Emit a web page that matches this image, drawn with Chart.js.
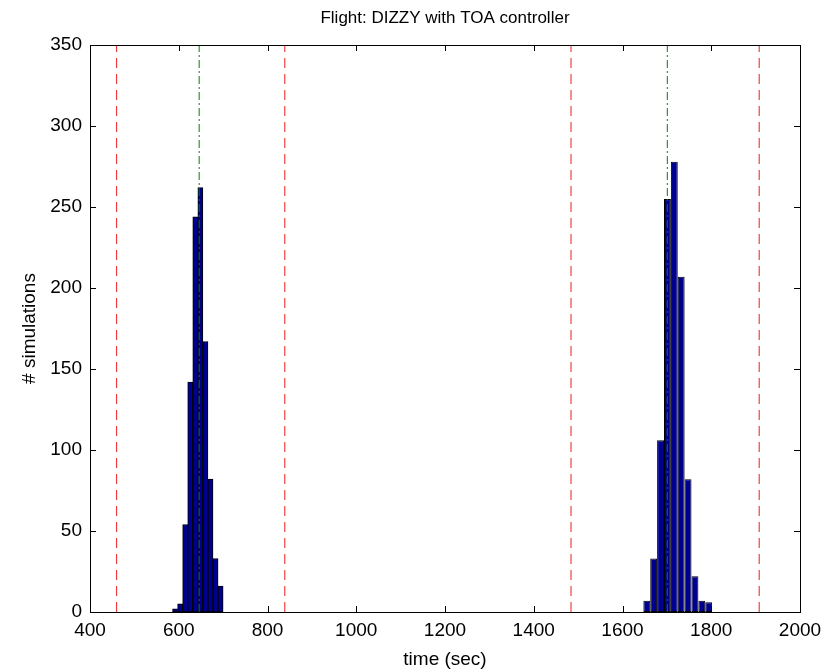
<!DOCTYPE html>
<html>
<head>
<meta charset="utf-8">
<script src="https://cdn.jsdelivr.net/npm/chart.js@4"></script>
<style>
  html, body { margin: 0; padding: 0; background: #fff; }
  #c { display: block; }
</style>
</head>
<body>
<canvas id="c" width="824" height="671"></canvas>
<script>
// ---- data ----
const titleText = 'Flight: DIZZY with TOA controller';
const xLabel = 'time (sec)';
const yLabel = '# simulations';

const leftBinCenters = [591.7, 603.1, 614.5, 625.9, 637.3, 648.7, 660.1, 671.5, 682.9, 694.3];
const leftCounts     = [2, 5, 54, 142, 244, 262, 167, 82, 33, 16];
const leftBinWidth = 11.4;

const rightBinCenters = [1654.75, 1670.25, 1685.75, 1701.25, 1716.75, 1732.25, 1747.75, 1763.25, 1778.75, 1794.25];
const rightCounts     = [7, 33, 106, 255, 278, 207, 82, 22, 7, 6];
const rightBinWidth = 15.5;

const redLimits = [460, 839, 1484, 1908];      // dashed red lines
const greenTargets = [646, 1701];              // dash-dot green lines

const xMin = 400, xMax = 2000, xStep = 200;
const yMin = 0, yMax = 350, yStep = 50;

// ---- build datasets ----
function pts(xs, ys) { return xs.map((x, i) => ({ x: x, y: ys[i] })); }
function vline(x) { return [{ x: x, y: yMin }, { x: x, y: yMax }]; }

const datasets = [
  {
    type: 'bar', label: 'left', data: pts(leftBinCenters, leftCounts),
    backgroundColor: '#00008F', borderColor: '#000000', borderWidth: 1, borderSkipped: false,
    grouped: false, barPercentage: 1, categoryPercentage: 1, order: 2
  },
  {
    type: 'bar', label: 'right', data: pts(rightBinCenters, rightCounts),
    backgroundColor: '#00008F', borderColor: '#000000', borderWidth: 1, borderSkipped: false,
    grouped: false, barPercentage: 1, categoryPercentage: rightBinWidth / leftBinWidth, order: 2
  }
];
redLimits.forEach(v => datasets.push({
  type: 'line', data: vline(v), borderColor: 'rgb(235,30,30)', borderWidth: 1,
  borderDash: [10, 6], pointRadius: 0, fill: false, order: 1
}));
greenTargets.forEach(v => datasets.push({
  type: 'line', data: vline(v), borderColor: 'rgb(0,128,0)', borderWidth: 1,
  borderDash: [8, 3, 2, 3], pointRadius: 0, fill: false, order: 0
}));

// frame + inward ticks on all four sides
const framePlugin = {
  id: 'frame',
  afterDraw(chart) {
    const { ctx, chartArea: a, scales: { x, y } } = chart;
    const t = 6;
    ctx.save();
    ctx.strokeStyle = '#000';
    ctx.lineWidth = 1;
    ctx.beginPath();
    x.ticks.forEach(tk => {
      const px = Math.round(x.getPixelForValue(tk.value)) + 0.5;
      ctx.moveTo(px, a.bottom); ctx.lineTo(px, a.bottom - t);
      ctx.moveTo(px, a.top); ctx.lineTo(px, a.top + t);
    });
    y.ticks.forEach(tk => {
      const py = Math.round(y.getPixelForValue(tk.value)) + 0.5;
      ctx.moveTo(a.left, py); ctx.lineTo(a.left + t, py);
      ctx.moveTo(a.right, py); ctx.lineTo(a.right - t, py);
    });
    ctx.stroke();
    ctx.strokeRect(Math.round(a.left) + 0.5, Math.round(a.top) + 0.5,
                   Math.round(a.right - a.left), Math.round(a.bottom - a.top));
    ctx.restore();
  }
};

const fontFamily = '"Liberation Sans", Arial, Helvetica, sans-serif';

new Chart(document.getElementById('c'), {
  type: 'bar',
  data: { datasets: datasets },
  options: {
    responsive: false,
    animation: false,
    layout: { padding: { left: 0, right: 24, top: 0, bottom: 0 } },
    plugins: {
      legend: { display: false },
      tooltip: { enabled: false },
      title: { display: false }
    },
    scales: {
      x: {
        type: 'linear', min: xMin, max: xMax, offset: false,
        grid: { display: false, drawTicks: false },
        border: { display: false },
        ticks: { stepSize: xStep, color: '#000', padding: 7, maxRotation: 0,
                 font: { family: fontFamily, size: 19 },
                 callback: (v) => String(v) },
        title: { display: true, text: xLabel, color: '#000',
                 font: { family: fontFamily, size: 19, lineHeight: 1.2 },
                 padding: { top: 0, bottom: 0 } },
        afterFit(scale) { scale.height = 59; scale.paddingLeft = 0; scale.paddingRight = 0; }
      },
      xTop: {
        type: 'linear', position: 'top', min: xMin, max: xMax, offset: false,
        grid: { display: false, drawTicks: false },
        border: { display: false },
        ticks: { display: false },
        title: { display: true, text: titleText, color: '#000',
                 font: { family: fontFamily, size: 17, lineHeight: 1.2 },
                 padding: { top: 8, bottom: 0 } },
        afterFit(scale) { scale.height = 45; scale.paddingLeft = 0; scale.paddingRight = 0; }
      },
      y: {
        type: 'linear', min: yMin, max: yMax,
        grid: { display: false, drawTicks: false },
        border: { display: false },
        ticks: { stepSize: yStep, color: '#000', padding: 8,
                 font: { family: fontFamily, size: 19 } },
        title: { display: true, text: yLabel, color: '#000',
                 font: { family: fontFamily, size: 19, lineHeight: 1.2 },
                 padding: { top: 18.6, bottom: 0 } },
        afterFit(scale) { scale.width = 90; scale.paddingTop = 0; scale.paddingBottom = 0; }
      }
    }
  },
  plugins: [framePlugin]
});
</script>
</body>
</html>
